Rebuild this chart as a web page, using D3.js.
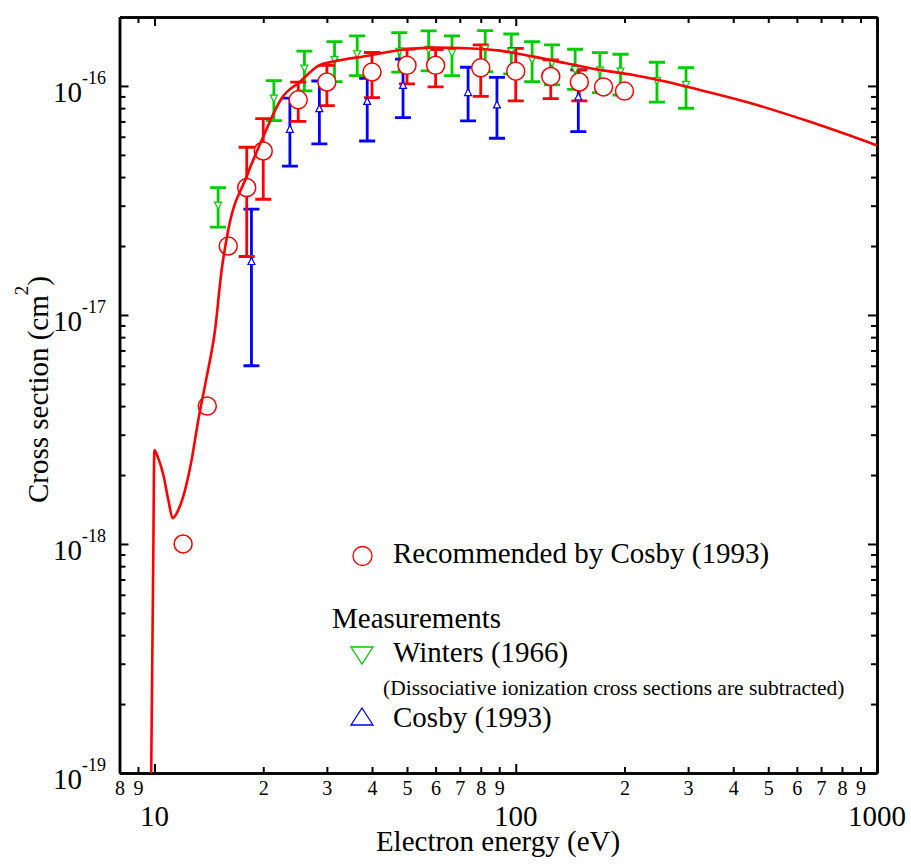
<!DOCTYPE html>
<html>
<head>
<meta charset="utf-8">
<script src="https://cdn.jsdelivr.net/npm/d3@7/dist/d3.min.js"></script>
<style>
  html, body { margin: 0; padding: 0; background: #fff; }
  svg text { font-family: "Liberation Serif", "Times New Roman", serif; fill: #000; }
</style>
</head>
<body>
<svg id="chart" width="911" height="864"></svg>
<script>
// Recommended cross sections (Cosby 1993), energy in eV, cross section in cm^2
const recEnergy = [12, 14, 16, 18, 20, 25, 30, 40, 50, 60, 80, 100, 125, 150, 175, 200];
const recValue  = [1.0e-18, 4.0e-18, 2.0e-17, 3.6e-17, 5.2e-17, 8.7e-17, 1.04e-16, 1.15e-16,
                   1.23e-16, 1.23e-16, 1.20e-16, 1.16e-16, 1.10e-16, 1.04e-16, 0.99e-16, 0.95e-16];
const recLow    = [null, null, null, 1.8e-17, 3.2e-17, 7.0e-17, 0.82e-16, 0.89e-16,
                   1.02e-16, 0.99e-16, 0.90e-16, 0.86e-16, 0.88e-16, 0.86e-16, null, null];
const recHigh   = [null, null, null, 5.4e-17, 7.2e-17, 1.04e-16, 1.23e-16, 1.40e-16,
                   1.45e-16, 1.44e-16, 1.51e-16, 1.46e-16, 1.30e-16, 1.175e-16, null, null];

// Winters (1966) measurements
const wintersEnergy = [15, 21.4, 26, 31.5, 36.4, 47.6, 57.4, 66.6, 82.3, 97.2, 111, 126, 146, 171, 195, 246, 296];
const wintersValue  = [3.0e-17, 0.88e-16, 1.19e-16, 1.30e-16, 1.375e-16, 1.41e-16, 1.436e-16, 1.39e-16,
                       1.446e-16, 1.41e-16, 1.30e-16, 1.256e-16, 1.175e-16, 1.166e-16, 1.155e-16, 1.051e-16, 1.01e-16];
const wintersLow    = [2.42e-17, 0.705e-16, 0.951e-16, 1.044e-16, 1.109e-16, 1.148e-16, 1.163e-16, 1.109e-16,
                       1.155e-16, 1.128e-16, 1.044e-16, 1.01e-16, 0.967e-16, 0.935e-16, 0.913e-16, 0.849e-16, 0.799e-16];
const wintersHigh   = [3.6e-17, 1.055e-16, 1.42e-16, 1.56e-16, 1.653e-16, 1.71e-16, 1.738e-16, 1.653e-16,
                       1.744e-16, 1.686e-16, 1.56e-16, 1.51e-16, 1.446e-16, 1.398e-16, 1.375e-16, 1.269e-16, 1.202e-16];

// Cosby (1993) measurements
const cosbyEnergy = [18.55, 23.7, 28.6, 38.8, 48.75, 73.8, 88.7, 149];
const cosbyValue  = [1.72e-17, 6.5e-17, 0.80e-16, 0.86e-16, 1.01e-16, 0.94e-16, 0.83e-16, 0.90e-16];
const cosbyLow    = [0.60e-17, 4.47e-17, 0.558e-16, 0.575e-16, 0.727e-16, 0.704e-16, 0.591e-16, 0.632e-16];
const cosbyHigh   = [2.9e-17, 0.884e-16, 1.051e-16, 1.08e-16, 1.31e-16, 1.207e-16, 1.09e-16, 1.175e-16];

// Recommended curve
const curveEnergy = [9.78, 9.92, 9.99, 10.24, 10.58, 10.92, 11.23, 11.64, 12.01, 12.67, 13.22, 13.95,
                     14.71, 15.34, 16.0, 17.99, 20.0, 22.49, 25.27, 28.71, 31.25, 38.65, 49.9, 59.1,
                     73.1, 90.4, 111.8, 138.2, 170.9, 211.3, 261.4, 323.2, 435.4, 665.5, 1000];
const curveValue  = [8.4e-20, 8.51e-19, 2.57e-18, 2.37e-18, 2.0e-18, 1.556e-18, 1.295e-18, 1.408e-18,
                     1.609e-18, 2.33e-18, 3.48e-18, 5.38e-18, 8.6e-18, 1.572e-17, 2.35e-17, 4.02e-17,
                     6.0e-17, 8.84e-17, 1.044e-16, 1.235e-16, 1.277e-16, 1.352e-16, 1.446e-16, 1.47e-16,
                     1.46e-16, 1.426e-16, 1.343e-16, 1.256e-16, 1.175e-16, 1.117e-16, 1.044e-16,
                     0.961e-16, 0.851e-16, 0.690e-16, 0.550e-16];

// Axis tick definitions
const xMajorTicks = [10, 100, 1000];
const xMajorLabels = ["10", "100", "1000"];
const xMinorTicks = [8, 9, 20, 30, 40, 50, 60, 70, 80, 90, 200, 300, 400, 500, 600, 700, 800, 900];
const yMajorTicks = [1e-19, 1e-18, 1e-17, 1e-16];
const yMajorExponents = ["-19", "-18", "-17", "-16"];
const yMinorTicks = [];
for (let e = -19; e <= -17; e++) for (let m = 2; m <= 9; m++) yMinorTicks.push(m * Math.pow(10, e));

const RED = "#ff0000", GREEN = "#00cc00", BLUE = "#0000ff";

const L = 119.5, R = 877, T = 17, B = 773;
const svg = d3.select("#chart");

const x = d3.scaleLog().domain([8, 1000]).range([L, R]);
const y = d3.scaleLog().domain([1e-19, 2e-16]).range([B, T]);

svg.append("defs").append("clipPath").attr("id", "plotClip")
  .append("rect").attr("x", L).attr("y", T).attr("width", R - L).attr("height", B - T);

// ---- axes (inward ticks on all four sides) ----
function styleAxis(g) {
  g.selectAll("path.domain").attr("stroke", "#000").attr("stroke-width", 2.5);
  g.selectAll(".tick line").attr("stroke", "#000").attr("stroke-width", 2);
}
// bottom
svg.append("g").attr("transform", `translate(0,${B})`)
  .call(d3.axisBottom(x).tickValues(xMinorTicks).tickSize(-6).tickSizeOuter(0).tickPadding(8)
        .tickFormat(d => String(Math.round(d / Math.pow(10, Math.floor(Math.log10(d)))))))
  .call(styleAxis)
  .call(g => g.selectAll("text").attr("font-size", 20).attr("font-family", "Liberation Serif"));
svg.append("g").attr("transform", `translate(0,${B})`)
  .call(d3.axisBottom(x).tickValues(xMajorTicks).tickSize(-9).tickSizeOuter(0).tickFormat(""))
  .call(styleAxis);
// top
svg.append("g").attr("transform", `translate(0,${T})`)
  .call(d3.axisTop(x).tickValues(xMinorTicks).tickSize(-6).tickSizeOuter(0).tickFormat(""))
  .call(styleAxis);
svg.append("g").attr("transform", `translate(0,${T})`)
  .call(d3.axisTop(x).tickValues(xMajorTicks).tickSize(-9).tickSizeOuter(0).tickFormat(""))
  .call(styleAxis);
// left
svg.append("g").attr("transform", `translate(${L},0)`)
  .call(d3.axisLeft(y).tickValues(yMinorTicks).tickSize(-6).tickSizeOuter(0).tickFormat(""))
  .call(styleAxis);
svg.append("g").attr("transform", `translate(${L},0)`)
  .call(d3.axisLeft(y).tickValues(yMajorTicks).tickSize(-9).tickSizeOuter(0).tickFormat(""))
  .call(styleAxis);
// right
svg.append("g").attr("transform", `translate(${R},0)`)
  .call(d3.axisRight(y).tickValues(yMinorTicks).tickSize(-6).tickSizeOuter(0).tickFormat(""))
  .call(styleAxis);
svg.append("g").attr("transform", `translate(${R},0)`)
  .call(d3.axisRight(y).tickValues(yMajorTicks).tickSize(-9).tickSizeOuter(0).tickFormat(""))
  .call(styleAxis);

// major x labels
svg.append("g").selectAll("text").data(xMajorTicks).join("text")
  .attr("x", d => x(d)).attr("y", B + 53)
  .attr("text-anchor", "middle").attr("font-size", 29)
  .text((d, i) => xMajorLabels[i]);

// major y labels with exponent
const yl = svg.append("g").selectAll("text").data(yMajorTicks).join("text")
  .attr("x", 106).attr("y", d => y(d) + 16)
  .attr("text-anchor", "end").attr("font-size", 29);
yl.append("tspan").text("10");
yl.append("tspan").attr("font-size", 18).attr("dy", -18).text((d, i) => yMajorExponents[i]);

// axis titles
svg.append("text").attr("x", 498).attr("y", 851).attr("text-anchor", "middle")
  .attr("font-size", 29).text("Electron energy (eV)");
const yt = svg.append("text").attr("transform", "translate(48,503) rotate(-90)")
  .attr("font-size", 29);
yt.append("tspan").text("Cross section (cm");
yt.append("tspan").attr("font-size", 19).attr("dy", -20).text("2");
yt.append("tspan").attr("dy", 20).text(")");

// ---- data ----
const plot = svg.append("g").attr("clip-path", "url(#plotClip)");

function errorBars(energy, low, high, color) {
  const idx = energy.map((d, i) => i).filter(i => low[i] != null && high[i] != null);
  const g = plot.append("g").attr("stroke", color).attr("stroke-width", 2.8).attr("fill", "none");
  idx.forEach(i => {
    const cx = x(energy[i]);
    g.append("line").attr("x1", cx).attr("x2", cx).attr("y1", y(low[i])).attr("y2", y(high[i]));
    g.append("line").attr("x1", cx - 8).attr("x2", cx + 8).attr("y1", y(low[i])).attr("y2", y(low[i]));
    g.append("line").attr("x1", cx - 8).attr("x2", cx + 8).attr("y1", y(high[i])).attr("y2", y(high[i]));
  });
}
errorBars(wintersEnergy, wintersLow, wintersHigh, GREEN);
errorBars(cosbyEnergy, cosbyLow, cosbyHigh, BLUE);
errorBars(recEnergy, recLow, recHigh, RED);

// triangles
function triPath(cx, cy, w, h, down) {
  return down
    ? `M${cx - w / 2},${cy - h / 2}L${cx + w / 2},${cy - h / 2}L${cx},${cy + h / 2}Z`
    : `M${cx},${cy - h / 2}L${cx + w / 2},${cy + h / 2}L${cx - w / 2},${cy + h / 2}Z`;
}
plot.append("g").selectAll("path").data(wintersEnergy).join("path")
  .attr("d", (d, i) => triPath(x(d), y(wintersValue[i]), 7, 7, true))
  .attr("fill", "#fff").attr("stroke", GREEN).attr("stroke-width", 1.2);
plot.append("g").selectAll("path").data(cosbyEnergy).join("path")
  .attr("d", (d, i) => triPath(x(d), y(cosbyValue[i]), 7, 7, false))
  .attr("fill", "#fff").attr("stroke", BLUE).attr("stroke-width", 1.2);

// recommended circles
plot.append("g").selectAll("circle").data(recEnergy).join("circle")
  .attr("cx", d => x(d)).attr("cy", (d, i) => y(recValue[i])).attr("r", 9)
  .attr("fill", "#fff").attr("stroke", RED).attr("stroke-width", 1.5);

// recommended curve
const line = d3.line().x(d => x(d[0])).y(d => y(d[1])).curve(d3.curveMonotoneX);
plot.append("path").datum(curveEnergy.map((e, i) => [e, curveValue[i]]))
  .attr("d", line).attr("fill", "none").attr("stroke", RED).attr("stroke-width", 2.6)
  .attr("stroke-linejoin", "round");

// ---- legend ----
const lg = svg.append("g");
lg.append("circle").attr("cx", 362.5).attr("cy", 556).attr("r", 9.5)
  .attr("fill", "#fff").attr("stroke", RED).attr("stroke-width", 1.3);
lg.append("text").attr("x", 393).attr("y", 563).attr("font-size", 29).text("Recommended by Cosby (1993)");
lg.append("text").attr("x", 332).attr("y", 628).attr("font-size", 29).text("Measurements");
lg.append("path").attr("d", triPath(362, 655.5, 22, 17, true))
  .attr("fill", "none").attr("stroke", GREEN).attr("stroke-width", 1.3);
lg.append("text").attr("x", 393).attr("y", 662).attr("font-size", 29).text("Winters (1966)");
lg.append("text").attr("x", 383).attr("y", 695).attr("font-size", 21.5)
  .text("(Dissociative ionization cross sections are subtracted)");
lg.append("path").attr("d", triPath(362, 716.5, 22, 17, false))
  .attr("fill", "none").attr("stroke", BLUE).attr("stroke-width", 1.3);
lg.append("text").attr("x", 393).attr("y", 727).attr("font-size", 29).text("Cosby (1993)");
</script>
</body>
</html>
